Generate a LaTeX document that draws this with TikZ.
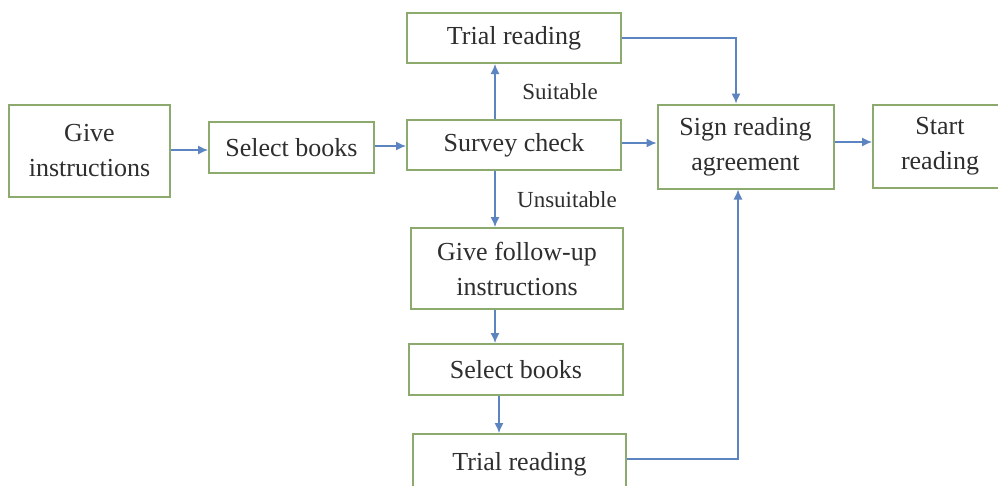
\documentclass[tikz,border=0pt]{standalone}
\usepackage{fontspec}
\setmainfont{Liberation Serif}
\usetikzlibrary{arrows.meta}
\definecolor{boxgreen}{HTML}{8DAA6E}
\definecolor{arrowblue}{HTML}{5B84C0}
\definecolor{txt}{HTML}{2E2E2E}
\begin{document}
\begin{tikzpicture}[x=1pt,y=-1pt,
  box/.style={draw=boxgreen,line width=2pt,fill=white,align=center,text=txt,
    font=\fontsize{26}{35}\selectfont,inner sep=0pt,anchor=center},
  conn/.style={draw=arrowblue,line width=1.3pt,-{Latex[length=10pt,width=9pt]}},
  lbl/.style={text=txt,font=\fontsize{23}{26}\selectfont,anchor=center}]
\useasboundingbox (0,0) rectangle (998,485);
\clip (0,0) rectangle (998,485);
\fill[white] (0,0) rectangle (998,485);
\node[box,minimum width=161pt,minimum height=92pt] (gi) at (89.5,151) {Give\\instructions};
\node[box,minimum width=165pt,minimum height=51pt] (sb1) at (291.5,147.5) {Select books};
\node[box,minimum width=214pt,minimum height=50pt] (sc) at (514,145) {Survey check};
\node[box,minimum width=214pt,minimum height=50pt] (tr1) at (514,38) {Trial reading};
\node[box,minimum width=176pt,minimum height=84pt] (sign) at (745.5,146.5) {Sign reading\\agreement};
\node[box,minimum width=134pt,minimum height=83pt] (start) at (940,146.5) {Start\\reading};
\node[box,minimum width=212pt,minimum height=81pt] (fu) at (517,268.5) {Give follow-up\\instructions};
\node[box,minimum width=214pt,minimum height=51pt] (sb2) at (516,369.5) {Select books};
\node[box,minimum width=213pt,minimum height=60pt] (tr2) at (519.5,464) {Trial reading};
\node[lbl] (suit) at (560,92) {Suitable};
\node[lbl] (unsuit) at (567,200) {Unsuitable};
\draw[conn] (gi.east |- 0,150) -- (sb1.west |- 0,150);
\draw[conn] (sb1.east |- 0,146) -- (sc.west |- 0,146);
\draw[conn] (sc.north -| 495,0) -- (tr1.south -| 495,0);
\draw[conn] (sc.south -| 495,0) -- (fu.north -| 495,0);
\draw[conn] (fu.south -| 495,0) -- (sb2.north -| 495,0);
\draw[conn] (sb2.south -| 499,0) -- (tr2.north -| 499,0);
\draw[conn] (sc.east |- 0,143) -- (sign.west |- 0,143);
\draw[conn] (sign.east |- 0,142) -- (start.west |- 0,142);
\draw[conn] (tr1.east |- 0,38) -| (sign.north -| 736,0);
\draw[conn] (tr2.east |- 0,459) -| (sign.south -| 738,0);
\end{tikzpicture}
\end{document}
